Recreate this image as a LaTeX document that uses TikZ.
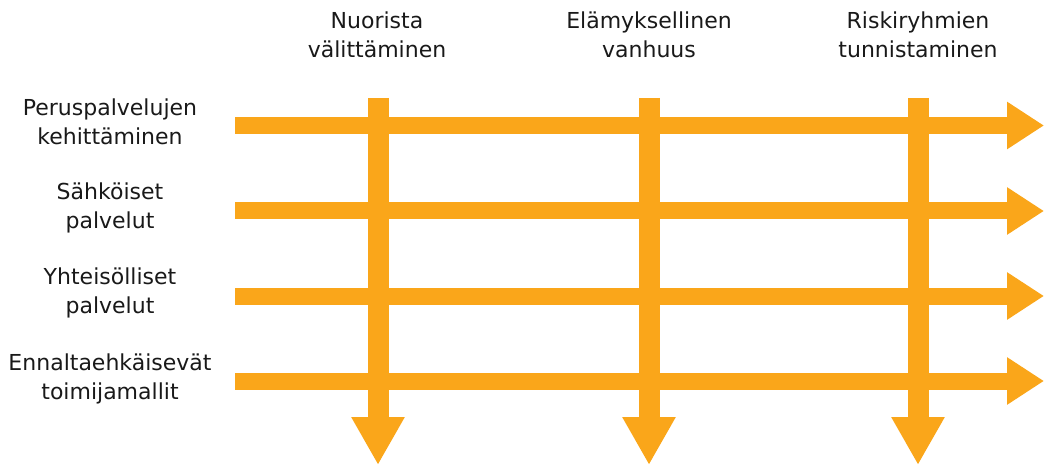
\documentclass[tikz,border=0pt]{standalone}
\usepackage{fontspec}
\setmainfont{DejaVu Sans}
\usetikzlibrary{arrows.meta}
\definecolor{nuoli}{RGB}{250,166,26}

\tikzset{
    vaaka/.style={nuoli, line width=17pt, -{Triangle[length=37pt, width=45pt]}},
    pysty/.style={nuoli, line width=21pt, -{Triangle[length=48pt, width=50pt]}},
    otsikko/.style={align=center, font=\fontsize{22}{29}\selectfont, inner sep=0pt, text=black!90}
}

\begin{document}
\begin{tikzpicture}[x=1pt, y=-1pt]
    \useasboundingbox (0, 0) rectangle (1044, 465);

    % pystynuolet
    \coordinate (N1) at (378, 98);
    \coordinate (N2) at (378, 465);
    \coordinate (E1) at (649, 98);
    \coordinate (E2) at (649, 465);
    \coordinate (R1) at (918, 98);
    \coordinate (R2) at (918, 465);
    \draw[pysty] (N1) -- (N2);
    \draw[pysty] (E1) -- (E2);
    \draw[pysty] (R1) -- (R2);

    % vaakanuolet
    \coordinate (P1) at (235, 125.5);
    \coordinate (P2) at (1044, 125.5);
    \coordinate (S1) at (235, 211);
    \coordinate (S2) at (1044, 211);
    \coordinate (Y1) at (235, 296);
    \coordinate (Y2) at (1044, 296);
    \coordinate (T1) at (235, 381);
    \coordinate (T2) at (1044, 381);
    \draw[vaaka] (P1) -- (P2);
    \draw[vaaka] (S1) -- (S2);
    \draw[vaaka] (Y1) -- (Y2);
    \draw[vaaka] (T1) -- (T2);

    \node[otsikko] (nuoret) at (377, 35) {Nuorista\\välittäminen};
    \node[otsikko] (vanhuus) at (649, 35) {Elämyksellinen\\vanhuus};
    \node[otsikko] (riski) at (918, 35) {Riskiryhmien\\tunnistaminen};

    \node[otsikko] (perus) at (110, 122) {Peruspalvelujen\\kehittäminen};
    \node[otsikko] (sahko) at (110, 208) {Sähköiset\\palvelut};
    \node[otsikko] (yhteis) at (110, 293) {Yhteisölliset\\palvelut};
    \node[otsikko] (ennalta) at (110, 379) {Ennaltaehkäisevät\\toimijamallit};
\end{tikzpicture}
\end{document}
